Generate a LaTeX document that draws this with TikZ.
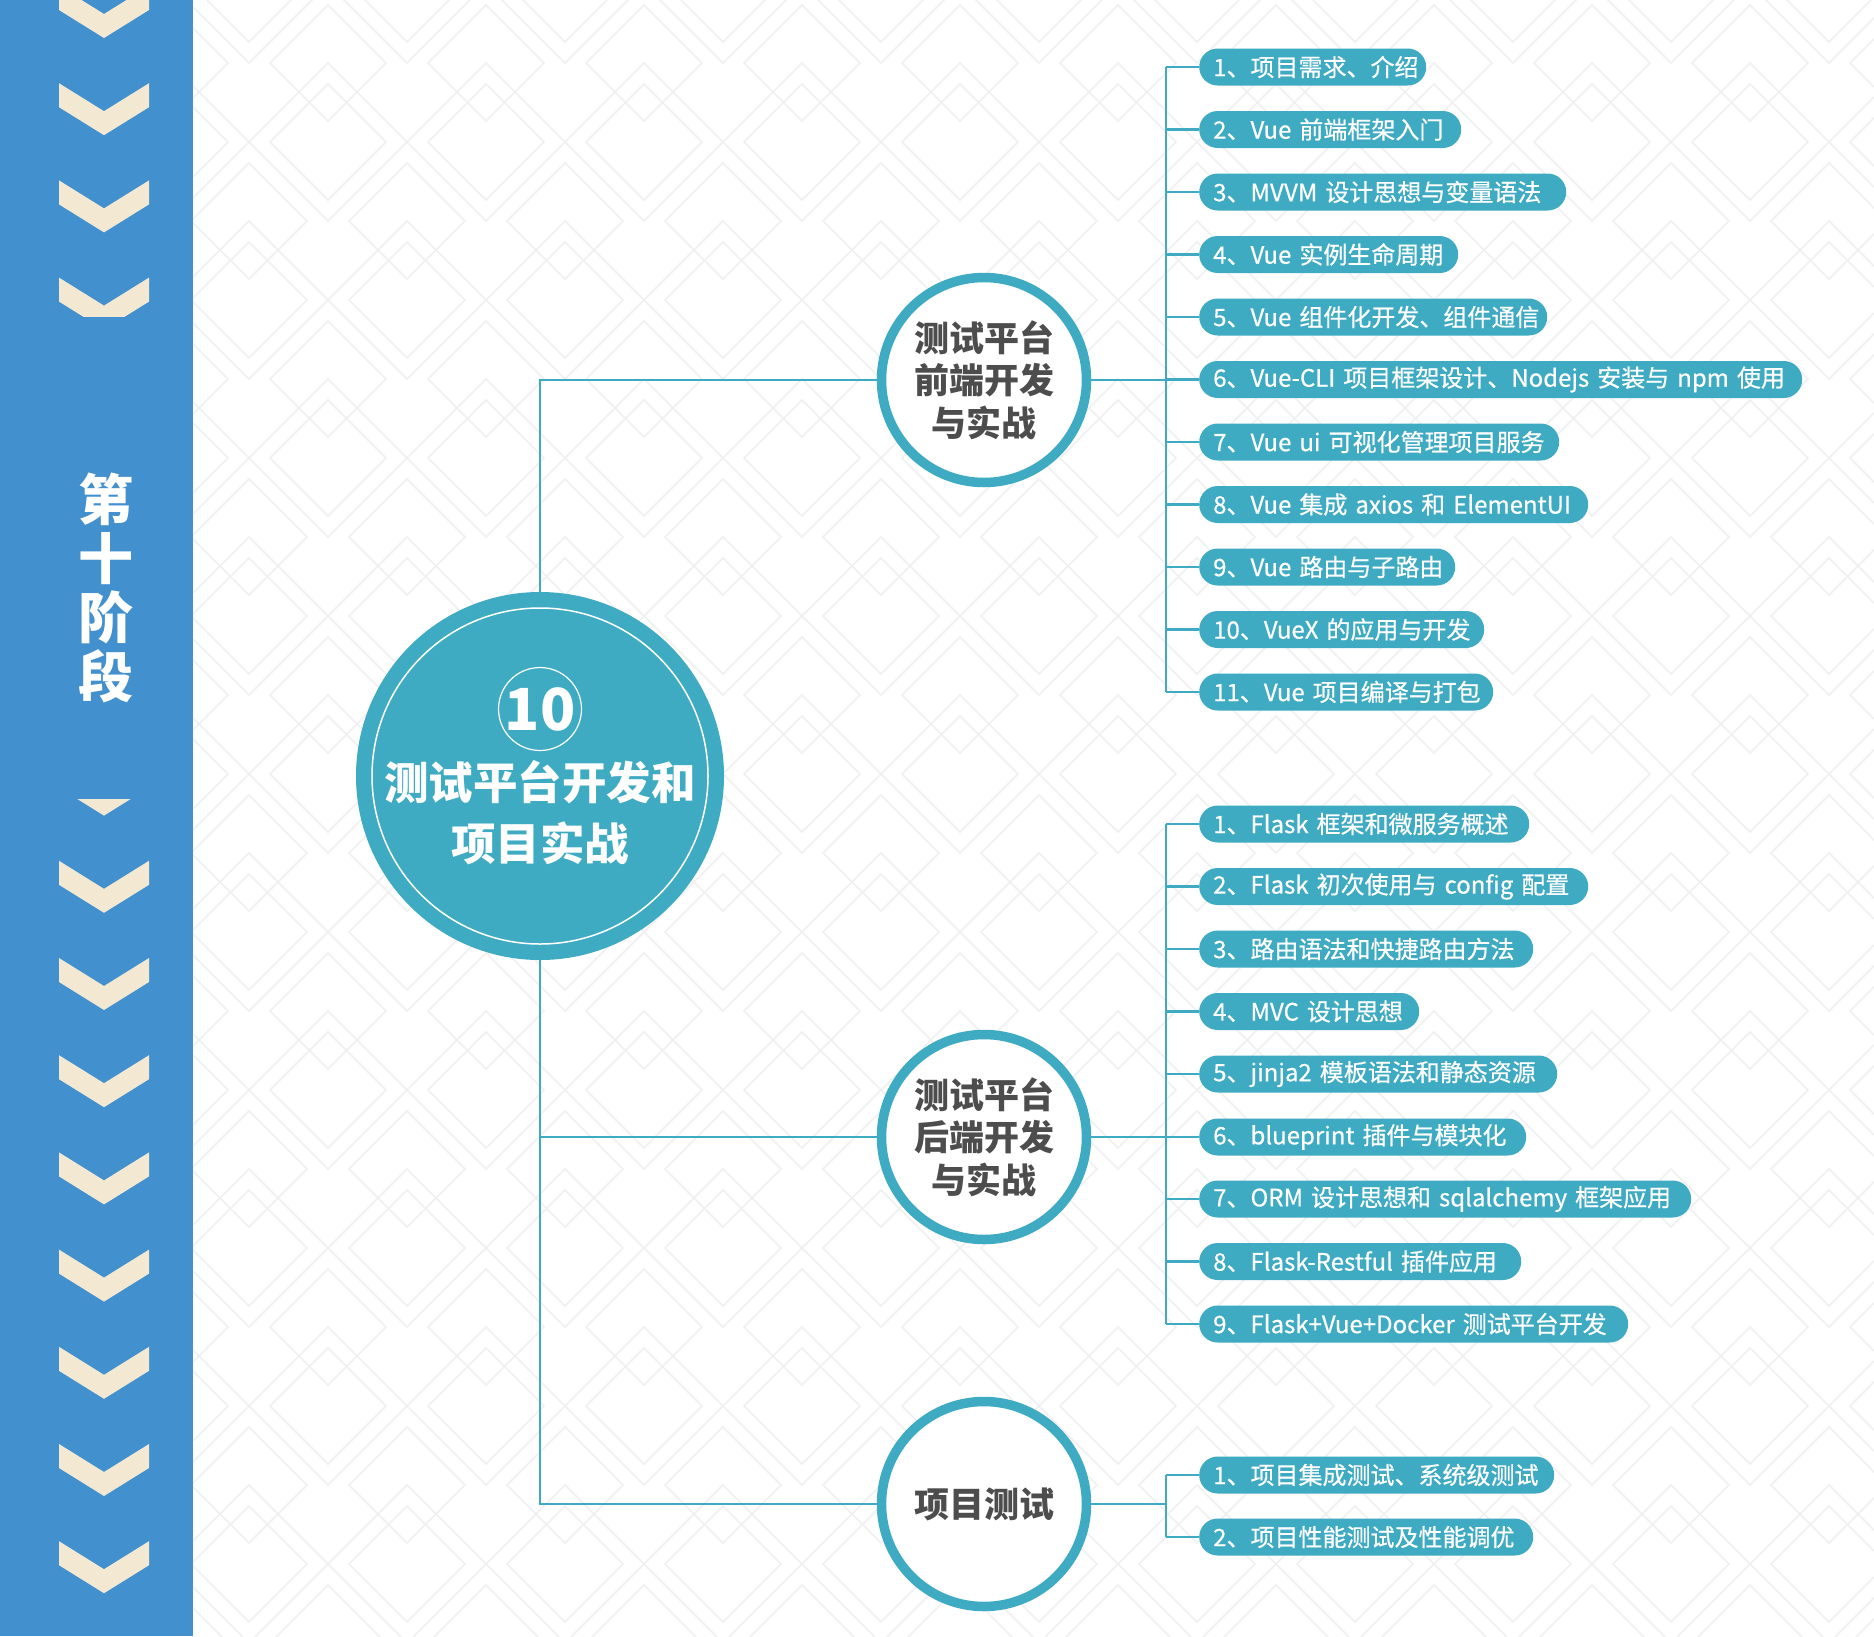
\documentclass[tikz,border=0pt]{standalone}
\usepackage{fontspec}
\setmainfont{Noto Sans CJK SC}
\newfontfamily\pillfont[FakeBold=0.5]{Noto Sans CJK SC}
\definecolor{tealc}{RGB}{62,171,195}
\definecolor{sidebarblue}{RGB}{67,144,206}
\definecolor{creamc}{RGB}{243,233,210}
\definecolor{darktext}{RGB}{77,77,77}
\definecolor{patc}{RGB}{240,240,240}
\tikzset{
  patline/.style={draw=patc, line width=1.5pt},
  conn/.style={draw=tealc, line width=2.9pt},
  pill/.style={fill=tealc, rounded corners=18.5pt, minimum height=37pt, inner xsep=14pt, inner ysep=0pt,
    text=white, font=\pillfont\fontsize{24}{28}\selectfont, anchor=west, align=left},
  subc/.style={circle, draw=tealc, line width=9.5pt, fill=white, minimum size=205pt, inner sep=0pt,
    align=center, text=darktext, font=\bfseries\fontsize{35}{42.5}\selectfont},
  chev/.style={fill=creamc}
}
\begin{document}
\begin{tikzpicture}[x=1pt,y=-1pt]
\useasboundingbox (0,0) rectangle (1874,1636);
\fill[white] (0,0) rectangle (1874,1636);
% background pattern
\begin{scope}
\clip (193,0) rectangle (1874,1636);
\foreach \r in {-1,...,10} {
  \foreach \k in {-1,...,11} {
    \pgfmathsetmacro\cx{328+158*\k-79*mod(\r+2,2)}
    \pgfmathsetmacro\cy{142+158*\r}
    \draw[patline] (\cx-79,\cy) -- (\cx,\cy-79) -- (\cx+79,\cy) -- (\cx,\cy+79) -- cycle;
    \draw[patline] (\cx-58,\cy) -- (\cx,\cy-58) -- (\cx+58,\cy) -- (\cx,\cy+58) -- cycle;
    \draw[patline] (\cx-58,\cy-79) -- (\cx,\cy-137) -- (\cx+58,\cy-79) -- (\cx,\cy-21) -- cycle;
  }
}
\end{scope}
% sidebar
\fill[sidebarblue] (0,0) rectangle (193,1636);
\foreach \k in {0,...,16} {
  \pgfmathsetmacro\t{-14+97.2*\k}
  \fill[chev] (59,\t) -- (104,\t+28) -- (149,\t) -- (149,\t+24) -- (104,\t+52) -- (59,\t+24) -- cycle;
}
\fill[sidebarblue] (40,317) rectangle (170,799);
\node[text=white, align=center, font=\bfseries\fontsize{55}{59}\selectfont] (stage) at (106,588) {第\\十\\阶\\段};
% central circle
\node[circle, fill=tealc, minimum size=368pt, inner sep=0pt] (center) at (540,776) {};
\node[circle, draw=white, line width=1.5pt, minimum size=336pt, inner sep=0pt] (ring) at (540,776) {};
\node[circle, draw=white, line width=1.2pt, minimum size=76pt, inner sep=0pt, text=white,
  font=\bfseries\fontsize{58}{60}\selectfont] (num) at (540,709) {10};
\node[text=white, align=center, font=\bfseries\fontsize{44.5}{61}\selectfont] (title) at (540,813) {测试平台开发和\\项目实战};
% sub circles
\node[subc] (f1) at (984,380) {测试平台\\前端开发\\与实战};
\node[subc] (f2) at (984,1137) {测试平台\\后端开发\\与实战};
\node[subc] (f3) at (984,1504) {项目测试};
\draw[conn] (center) |- (f1);
\draw[conn] (center) |- (f2);
\draw[conn] (center) |- (f3);
% group 1 pills
\node[pill, text width=199pt] (a1) at (1199,67) {\mbox{1、项目需求、介绍}};
\node[pill, text width=234pt] (a2) at (1199,129.5) {\mbox{2、Vue 前端框架入门}};
\node[pill, text width=339pt] (a3) at (1199,192) {\mbox{3、MVVM 设计思想与变量语法}};
\node[pill, text width=231pt] (a4) at (1199,254.5) {\mbox{4、Vue 实例生命周期}};
\node[pill, text width=320pt] (a5) at (1199,317) {\mbox{5、Vue 组件化开发、组件通信}};
\node[pill, text width=575pt] (a6) at (1199,379.5) {\mbox{6、Vue-CLI 项目框架设计、Nodejs 安装与 npm 使用}};
\node[pill, text width=332pt] (a7) at (1199,442) {\mbox{7、Vue ui 可视化管理项目服务}};
\node[pill, text width=361pt] (a8) at (1199,504.5) {\mbox{8、Vue 集成 axios 和 ElementUI}};
\node[pill, text width=228pt] (a9) at (1199,567) {\mbox{9、Vue 路由与子路由}};
\node[pill, text width=257pt] (a10) at (1199,629.5) {\mbox{10、VueX 的应用与开发}};
\node[pill, text width=266pt] (a11) at (1199,692) {\mbox{11、Vue 项目编译与打包}};
\coordinate (j1) at (1166,380);
\draw[conn] (f1) -- (j1);
\draw[conn] (j1 |- a1.west) -- (j1 |- a11.west);
\foreach \i in {1,...,11} { \draw[conn] (j1 |- a\i.west) -- (a\i.west); }
% group 2 pills
\node[pill, text width=302pt] (b1) at (1199,824) {\mbox{1、Flask 框架和微服务概述}};
\node[pill, text width=361pt] (b2) at (1199,886.5) {\mbox{2、Flask 初次使用与 config 配置}};
\node[pill, text width=306pt] (b3) at (1199,949) {\mbox{3、路由语法和快捷路由方法}};
\node[pill, text width=192pt] (b4) at (1199,1011.5) {\mbox{4、MVC 设计思想}};
\node[pill, text width=330pt] (b5) at (1199,1074) {\mbox{5、jinja2 模板语法和静态资源}};
\node[pill, text width=299pt] (b6) at (1199,1137) {\mbox{6、blueprint 插件与模块化}};
\node[pill, text width=464pt] (b7) at (1199,1199) {\mbox{7、ORM 设计思想和 sqlalchemy 框架应用}};
\node[pill, text width=294pt] (b8) at (1199,1261.5) {\mbox{8、Flask-Restful 插件应用}};
\node[pill, text width=401pt] (b9) at (1199,1324) {\mbox{9、Flask+Vue+Docker 测试平台开发}};
\coordinate (j2) at (1166,1137);
\draw[conn] (f2) -- (j2);
\draw[conn] (j2 |- b1.west) -- (j2 |- b9.west);
\foreach \i in {1,...,9} { \draw[conn] (j2 |- b\i.west) -- (b\i.west); }
% group 3 pills
\node[pill, text width=327pt] (c1) at (1199,1475) {\mbox{1、项目集成测试、系统级测试}};
\node[pill, text width=306pt] (c2) at (1199,1537) {\mbox{2、项目性能测试及性能调优}};
\coordinate (j3) at (1166,1504);
\draw[conn] (f3) -- (j3);
\draw[conn] (j3 |- c1.west) -- (j3 |- c2.west);
\foreach \i in {1,2} { \draw[conn] (j3 |- c\i.west) -- (c\i.west); }
\end{tikzpicture}
\end{document}
